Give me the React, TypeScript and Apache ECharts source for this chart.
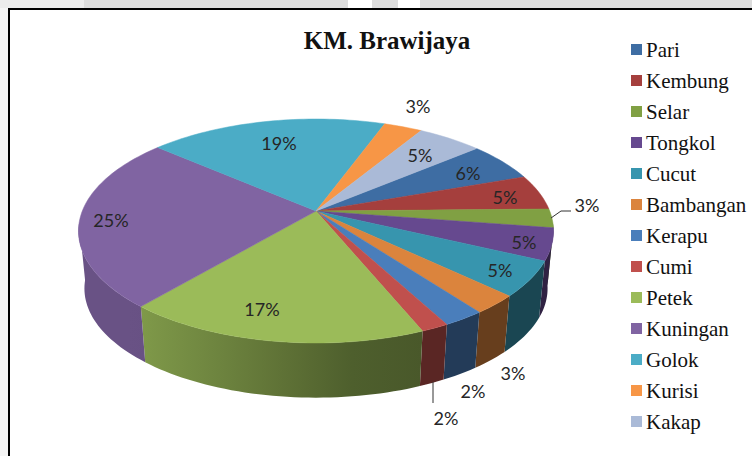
import React, { useEffect, useRef } from "react";
import * as echarts from "echarts";

const categories = ["Pari", "Kembung", "Selar", "Tongkol", "Cucut", "Bambangan", "Kerapu", "Cumi", "Petek", "Kuningan", "Golok", "Kurisi", "Kakap"];
const shares = [5.7, 5.1, 2.7, 4.6, 5.05, 2.7, 2.4, 1.6, 17.4, 25.1, 19.2, 3.1, 5.2];
const colors = ["#3E6DA3", "#A53F3D", "#80A043", "#66498F", "#3795AE", "#DB843D", "#4A7EBB", "#C0504D", "#9BBB59", "#8064A2", "#4BACC6", "#F79646", "#AABAD7"];
const labelSpots: number[][] = [
  [468, 173], [505, 197], [587, 205], [524, 242], [500, 270], [513, 373], [473, 391],
  [446, 418], [262, 309], [111, 220], [279, 143], [418, 106], [420, 155],
];
const leaders: Record<string, number[][]> = {
  Selar: [[551, 218], [561, 211], [571, 211]],
  Cumi: [[433, 382], [433, 403]],
};

const APEX_X = 316, APEX_Y = 211, A = 233.7, B = 108.4, K = 0.1786;
const START_DEG = 50, DROP = 58, SHRINK = 0.975;
const total = shares.reduce((s, v) => s + v, 0);

function rim(deg: number, base: boolean): number[] {
  const r = (deg * Math.PI) / 180;
  const u = Math.sin(r), v = -Math.cos(r), d = 1 - K * v;
  const s = base ? SHRINK : 1;
  return [APEX_X + (s * A * u) / d, APEX_Y + (base ? DROP : 0) + (s * B * v) / d];
}
function shade(x: number): number {
  if (x <= 141) return 0.82;
  if (x <= 390) return 0.82 - ((x - 141) / 249) * 0.37;
  return 0.47;
}
function scaled(hex: string, m: number): string {
  const n = parseInt(hex.slice(1), 16);
  return `rgb(${Math.round((n >> 16) * m)},${Math.round(((n >> 8) & 255) * m)},${Math.round((n & 255) * m)})`;
}
function arc(a: number, b: number, base: boolean): number[][] {
  const pts: number[][] = [];
  const n = Math.max(2, Math.ceil((b - a) / 1.5));
  for (let i = 0; i <= n; i++) pts.push(rim(a + ((b - a) * i) / n, base));
  return pts;
}

function sliceRenderer(i: number) {
  return (_p: any, api: any) => {
    const before = shares.slice(0, i).reduce((s, v) => s + v, 0);
    const a0 = START_DEG + (before / total) * 360;
    const a1 = a0 + (api.value(0) / total) * 360;
    const children: any[] = [];
    const lo = Math.max(a0, 96), hi = Math.min(a1, 264);
    if (hi > lo) {
      const top = arc(lo, hi, false);
      const bottom = arc(lo, hi, true).reverse();
      const xs = top.concat(bottom).map((p) => p[0]);
      const minX = Math.min(...xs), maxX = Math.max(...xs);
      const stops = [0, 0.25, 0.5, 0.75, 1].map((t) => ({
        offset: t,
        color: scaled(colors[i], shade(minX + (maxX - minX) * t)),
      }));
      children.push({
        type: "polygon",
        shape: { points: top.concat(bottom) },
        style: { fill: { type: "linear", x: 0, y: 0, x2: 1, y2: 0, colorStops: stops }, stroke: null },
      });
    }
    children.push({
      type: "polygon",
      shape: { points: [[APEX_X, APEX_Y]].concat(arc(a0, a1, false)) },
      style: { fill: colors[i], stroke: colors[i], lineWidth: 0.5 },
    });
    const leader = leaders[categories[i]];
    if (leader) {
      children.push({
        type: "polyline",
        shape: { points: leader },
        style: { fill: null, stroke: "#333", lineWidth: 1 },
      });
    }
    const [lx, ly] = labelSpots[i];
    children.push({
      type: "text",
      z2: 10,
      style: {
        x: lx, y: ly, text: `${Math.round((api.value(0) / total) * 100)}%`,
        fill: "#262626", font: '18px Lato', align: "center", verticalAlign: "middle",
      },
    });
    return { type: "group", children };
  };
}

export default function App() {
  const ref = useRef<HTMLDivElement>(null);
  useEffect(() => {
    const chart = echarts.init(ref.current!, undefined, { renderer: "svg" });
    chart.setOption({
      animation: false,
      backgroundColor: "#ffffff",
      title: {
        text: "KM. Brawijaya",
        left: 382, top: 23, textAlign: "center",
        textStyle: { fontFamily: "Liberation Serif", fontWeight: "bold", fontSize: 25, color: "#111" },
      },
      legend: {
        orient: "vertical", left: 631, top: 39, padding: 0, icon: "rect",
        itemWidth: 11, itemHeight: 11, itemGap: 10, itemStyle: { borderWidth: 0 },
        selectedMode: false,
        textStyle: { fontFamily: "Liberation Serif", fontSize: 21, color: "#111", padding: [0, 0, 0, -1], lineHeight: 18 },
        data: categories,
      },
      graphic: [
        { type: "rect", z: -1, shape: { x: 0, y: 0, width: 8, height: 456 }, style: { fill: "#f5f5f5" } },
        { type: "rect", z: -1, shape: { x: 84, y: 0, width: 668, height: 8 }, style: { fill: "#dcdcdc" } },
        { type: "rect", z: -1, shape: { x: 0, y: 0, width: 84, height: 8 }, style: { fill: "#ececec" } },
        { type: "rect", z: -1, shape: { x: 348, y: 0, width: 24, height: 8 }, style: { fill: "#ffffff" } },
        { type: "rect", z: -1, shape: { x: 398, y: 0, width: 22, height: 8 }, style: { fill: "#ffffff" } },
        { type: "rect", z: 0, shape: { x: 8, y: 8, width: 744, height: 2 }, style: { fill: "#000" } },
        { type: "rect", z: 0, shape: { x: 8, y: 8, width: 2, height: 448 }, style: { fill: "#000" } },
      ],
      series: categories.map((name, i) => ({
        type: "custom",
        name,
        coordinateSystem: "none",
        silent: true,
        itemStyle: { color: colors[i] },
        data: [[shares[i]]],
        renderItem: sliceRenderer(i),
      })),
    });
    return () => chart.dispose();
  }, []);
  return <div ref={ref} style={{ position: "fixed", left: 0, top: 0, width: 752, height: 456 }} />;
}
